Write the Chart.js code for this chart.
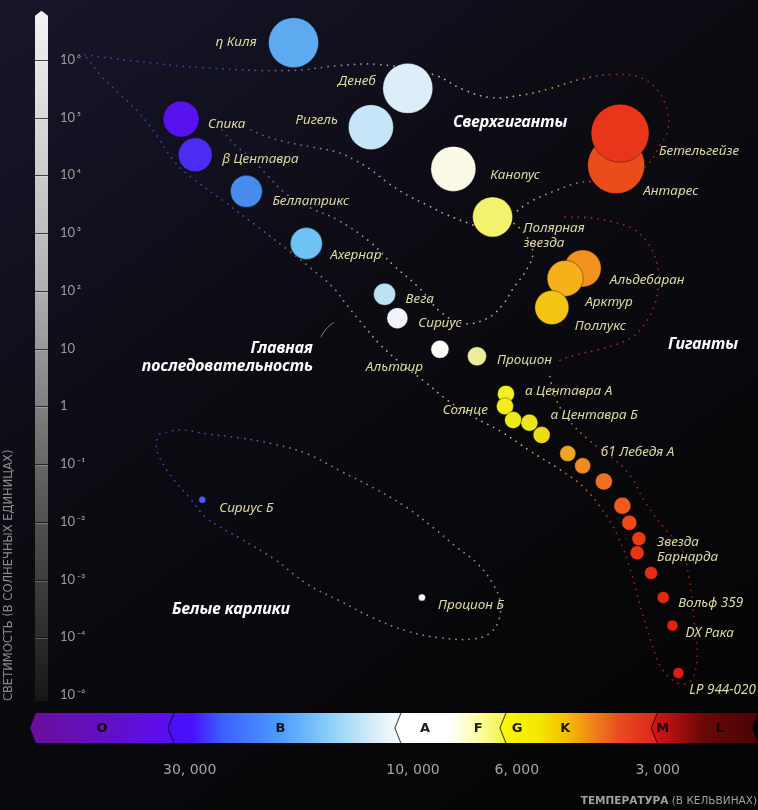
<!DOCTYPE html>
<html>
<head>
<meta charset="utf-8">
<script src="https://cdn.jsdelivr.net/npm/chart.js@4.4.1/dist/chart.umd.min.js"></script>
<style>
  html, body { margin: 0; padding: 0; background: #08080a; overflow: hidden; }
</style>
</head>
<body>
<canvas id="hr" width="758" height="810"></canvas>
<script>
// ---- stars: temperature (K), luminosity (suns), drawn radius, fill ----
const starNames = ['η Киля', 'Денеб', 'Ригель', 'Спика', 'β Центавра', 'Беллатрикс', 'Ахернар', 'Вега', 'Сириус',
  'Альтаир', 'Процион', 'Канопус', 'Полярная\nзвезда', 'Антарес', 'Бетельгейзе', 'Альдебаран', 'Арктур', 'Поллукс',
  'α Центавра А', 'Солнце', '', 'α Центавра Б', '', '61 Лебедя А', '', '', '', '', '', 'Звезда\nБарнарда', '',
  'Вольф 359', 'DX Рака', 'LP 944-020', 'Сириус Б', 'Процион Б'];
const starTemps = [18000, 10260, 12300, 31300, 29200, 22700, 16900, 11500, 10800, 8760, 7300, 8200, 6760, 3680, 3610,
  4340, 4730, 5050, 6330, 6360, 6110, 5640, 5310, 4670, 4340, 3910, 3570, 3450, 3290, 3320, 3100, 2920, 2790, 2710,
  28200, 9570];
const starLums = [1.98e6, 3.2e5, 6.8e4, 9.4e4, 2.26e4, 5270, 660, 87, 33.6, 9.7, 7.35, 1.29e4, 1900, 1.5e4, 5.35e4,
  244, 164, 51.3, 1.64, 1.0, 0.578, 0.52, 0.318, 0.152, 0.093, 0.050, 0.019, 0.0096, 0.0051, 0.0029, 0.0013,
  4.9e-4, 1.6e-4, 2.4e-5, 0.024, 4.9e-4];
const starSizes = [25, 25, 22.5, 18, 17, 16, 16, 11, 10.5, 9, 9.5, 22.5, 20, 28.5, 29, 18.5, 18, 17, 8.5, 8.5, 8.5,
  8.5, 8.5, 8, 8, 8.5, 8.5, 7.5, 7, 7, 6.5, 6, 5.5, 5.5, 3.5, 3.5];
const starColors = ['#5eaaf0', '#ddeefa', '#c6e5f8', '#5812f0', '#4a2cf2', '#4a8cee', '#6ec2f4', '#bde2f6', '#eef4fa',
  '#fdfdfd', '#ecec9a', '#fafae6', '#f2f26c', '#ea4c1c', '#e8361a', '#f2921e', '#f5b01a', '#f4c414', '#f4f020',
  '#f2ee1c', '#eeea18', '#eae61a', '#eedc18', '#f0a422', '#f08c20', '#f07020', '#f05a1c', '#f04a18', '#ec3a16',
  '#ea3416', '#e82c14', '#e82414', '#e42012', '#e01c12', '#4a5aff', '#ffffff'];
// label offset from the star centre: [dx, dy, align]
const starLabelPlace = [[-37, 0, 'right'], [-32, -7, 'right'], [-33, -7, 'right'], [27, 5, 'left'], [27, 4, 'left'],
  [26, 10, 'left'], [24, 12, 'left'], [21, 5, 'left'], [21, 5, 'left'], [-17, 18, 'right'], [20, 4, 'left'],
  [37, 6, 'left'], [31, 11, 'left'], [27, 26, 'left'], [39, 18, 'left'], [27, 12, 'left'], [20, 24, 'left'],
  [23, 19, 'left'], [19, -3, 'left'], [-17, 4, 'right'], null, [21, -8, 'left'], null, [33, -1, 'left'], null, null,
  null, null, null, [20, -11, 'left'], null, [15, 6, 'left'], [13, 8, 'left'], [11, 17, 'left'], [17, 8, 'left'],
  [16, 8, 'left']];

// ---- region captions ----
const regionNames = ['Сверхгиганты', 'Гиганты', 'Главная\nпоследовательность', 'Белые карлики'];
const regionTemps = [6200, 2400, 16370, 24490];
const regionLums = [8.3e4, 11.8, 10.1, 3.06e-4];
const regionAlign = ['center', 'center', 'right', 'center'];

// ---- dotted region outlines, [log10 T, log10 L] ----
const outlineSupergiantTop = [[4.701, 6.090], [4.605, 5.986], [4.455, 5.866], [4.263, 5.814], [4.156, 5.900],
  [4.071, 5.917], [3.957, 5.745], [3.893, 5.486], [3.835, 5.348], [3.771, 5.383], [3.714, 5.486], [3.643, 5.659],
  [3.573, 5.745], [3.515, 5.693], [3.479, 5.486], [3.457, 5.141], [3.455, 4.797], [3.472, 4.521], [3.504, 4.141],
  [3.568, 3.883], [3.637, 3.883], [3.692, 3.745], [3.750, 3.538], [3.788, 3.317]];
const outlineSupergiantBase = [[3.872, 3.141], [3.927, 3.314], [3.970, 3.486], [4.013, 3.659], [4.056, 3.883],
  [4.092, 4.107], [4.128, 4.279], [4.162, 4.400], [4.214, 4.486], [4.269, 4.572], [4.321, 4.693], [4.353, 4.814]];
const outlineMainUpper = [[4.408, 4.779], [4.380, 4.521], [4.348, 4.314], [4.316, 4.041], [4.274, 3.697],
  [4.220, 3.438], [4.162, 3.231], [4.092, 2.848], [4.043, 2.452], [3.985, 2.038], [3.942, 1.641], [3.893, 1.434],
  [3.842, 1.521], [3.808, 1.762], [3.786, 2.038], [3.756, 2.383], [3.744, 2.676], [3.761, 2.986], [3.788, 3.193]];
const outlineMainBand = [[4.697, 6.038], [4.669, 5.745], [4.626, 5.400], [4.583, 5.055], [4.545, 4.659],
  [4.509, 4.228], [4.466, 3.917], [4.402, 3.538], [4.338, 3.145], [4.274, 2.748], [4.220, 2.403], [4.171, 2.059],
  [4.141, 1.748], [4.109, 1.434], [4.071, 1.076], [4.024, 0.731], [3.974, 0.421], [3.927, 0.110], [3.874, -0.169],
  [3.814, -0.428], [3.750, -0.772], [3.686, -1.097], [3.637, -1.390], [3.596, -1.786], [3.562, -2.252],
  [3.536, -2.821], [3.513, -3.497], [3.491, -4.083], [3.466, -4.566], [3.429, -4.807], [3.404, -4.721],
  [3.393, -4.307], [3.400, -3.703], [3.410, -2.979], [3.427, -2.445], [3.464, -2.100], [3.502, -1.686],
  [3.536, -1.203], [3.573, -0.893], [3.622, -0.600], [3.669, -0.221], [3.697, 0.176], [3.709, 0.572]];
const outlineGiants = [[3.675, 3.279], [3.622, 3.262], [3.573, 3.193], [3.530, 3.072], [3.500, 2.848],
  [3.479, 2.490], [3.476, 2.107], [3.483, 1.779], [3.504, 1.434], [3.536, 1.176], [3.600, 0.990], [3.654, 0.886],
  [3.697, 0.766]];
const outlineDwarfs = [[4.541, -0.479], [4.498, -0.410], [4.440, -0.479], [4.370, -0.548], [4.299, -0.652],
  [4.226, -0.824], [4.156, -1.117], [4.085, -1.410], [4.013, -1.755], [3.957, -2.100], [3.906, -2.445],
  [3.863, -2.717], [3.829, -3.079], [3.814, -3.372], [3.816, -3.683], [3.835, -3.924], [3.872, -4.028],
  [3.942, -4.010], [4.013, -3.890], [4.085, -3.666], [4.156, -3.372], [4.226, -3.079], [4.299, -2.631],
  [4.370, -2.286], [4.440, -1.941], [4.476, -1.597], [4.513, -1.252], [4.541, -0.893], [4.549, -0.652],
  [4.541, -0.479]];

// dot colour along temperature
const outlineColorTemps = [50000, 25000, 18000, 12000, 7500, 5600, 4400, 3800, 2500];
const outlineColors = ['#3444c4', '#3a4ab8', '#6a72a8', '#a6a8b4', '#b8b8aa', '#c4b45a', '#c0703a', '#a82822', '#9c1818'];
const giantColorTemps = [5500, 2500];
const giantColors = ['#a83a30', '#a02020'];
const dwarfColorTemps = [35000, 25000, 18000, 9000];
const dwarfColors = ['#3444d0', '#4a5ab0', '#7a8494', '#909a96'];

// ---- axes ----
const lumTickValues = [1e-5, 1e-4, 1e-3, 1e-2, 1e-1, 1, 10, 1e2, 1e3, 1e4, 1e5, 1e6];
const lumTickLabels = ['10\u2009⁻⁶', '10\u2009⁻⁴', '10\u2009⁻³', '10\u2009⁻²', '10\u2009⁻¹', '1', '10',
  '10\u2009²', '10\u2009³', '10\u2009⁴', '10\u2009⁵', '10\u2009⁶'];
const tempTickValues = [3000, 6000, 10000, 30000];
const tempTickLabels = ['3, 000', '6, 000', '10, 000', '30, 000'];
const xTitleBold = 'ТЕМПЕРАТУРА';
const xTitleRest = ' (В КЕЛЬВИНАХ)';
const yTitle = 'СВЕТИМОСТЬ (В СОЛНЕЧНЫХ ЕДИНИЦАХ)';

// ---- spectral classes ----
const classLetters = ['O', 'B', 'A', 'F', 'G', 'K', 'M', 'L'];
const classLetterTemps = [46200, 19200, 9430, 7260, 5995, 4730, 2926, 2208];
const classBounds = [65800, 33400, 10930, 6520, 3097, 1831];
const classBandStops = [
  [[65800, '#6a0e9c'], [45000, '#6210c4'], [33400, '#5a0ef0']],
  [[33400, '#4a0cfa'], [29500, '#4a12fc'], [25600, '#3a60ff'], [19200, '#4c9cff'], [15000, '#8cd0f8'],
    [12500, '#cdeaf8'], [10930, '#f4f8fb']],
  [[10930, '#ffffff'], [8330, '#ffffff'], [7300, '#ffffa8'], [6520, '#f4f458']],
  [[6520, '#f8f810'], [5400, '#f4e800'], [4730, '#f4c000'], [4185, '#f08a18'], [3610, '#e84a20'], [3097, '#e02a1c']],
  [[3097, '#d81a14'], [2800, '#b01010'], [2400, '#6a0808'], [1831, '#4a0404']]
];

function tempGradient(chart, temps, colors) {
  const x = chart.scales.x;
  if (!x || !chart.chartArea) return colors[0];
  const x0 = x.getPixelForValue(temps[0]);
  const x1 = x.getPixelForValue(temps[temps.length - 1]);
  const g = chart.ctx.createLinearGradient(x0, 0, x1, 0);
  temps.forEach((t, i) => g.addColorStop((x.getPixelForValue(t) - x0) / (x1 - x0), colors[i]));
  return g;
}

function outlineDataset(points, temps, colors) {
  return {
    type: 'line',
    data: points.map(p => ({x: Math.pow(10, p[0]), y: Math.pow(10, p[1])})),
    borderColor: c => tempGradient(c.chart, temps, colors),
    borderWidth: 1.7,
    borderDash: [0.1, 6.5],
    borderCapStyle: 'round',
    pointRadius: 0,
    tension: 0.4,
    fill: false,
    clip: false,
    order: 1
  };
}

function drawLumBar(chart) {
  const {ctx, chartArea} = chart;
  const y = chart.scales.y;
  const left = 35, right = 48, mid = 41.5;
  const tip = chartArea.top + 3, top = chartArea.top + 8;
  const bottom = y.getPixelForValue(lumTickValues[0]) + 6;
  ctx.save();
  const g = ctx.createLinearGradient(0, top, 0, bottom);
  g.addColorStop(0, '#f2f2f2');
  g.addColorStop(0.4, '#b0b0b0');
  g.addColorStop(0.7, '#5a5a5a');
  g.addColorStop(1, '#161616');
  ctx.beginPath();
  ctx.moveTo(mid, tip);
  ctx.lineTo(right, top);
  ctx.lineTo(right, bottom);
  ctx.lineTo(left, bottom);
  ctx.lineTo(left, top);
  ctx.closePath();
  ctx.fillStyle = g;
  ctx.fill();
  lumTickValues.slice(1).forEach(v => {
    const py = Math.round(y.getPixelForValue(v)) + 0.5;
    ctx.strokeStyle = 'rgba(15,15,15,0.75)';
    ctx.lineWidth = 1;
    ctx.beginPath(); ctx.moveTo(left, py); ctx.lineTo(right, py); ctx.stroke();
    ctx.strokeStyle = 'rgba(255,255,255,0.22)';
    ctx.beginPath(); ctx.moveTo(left, py + 1); ctx.lineTo(right, py + 1); ctx.stroke();
  });
  ctx.restore();
}

function drawStarLabels(chart) {
  const {ctx} = chart;
  const {x, y} = chart.scales;
  ctx.save();
  ctx.fillStyle = '#ddd8a4';
  ctx.font = 'italic 13.5px "Noto Sans"';
  ctx.textBaseline = 'middle';
  starNames.forEach((name, i) => {
    if (!name) return;
    const [dx, dy, align] = starLabelPlace[i];
    ctx.textAlign = align;
    const px = x.getPixelForValue(starTemps[i]) + dx;
    const py = y.getPixelForValue(starLums[i]) + dy;
    name.split('\n').forEach((line, k) => ctx.fillText(line, px, py + k * 15));
  });
  ctx.restore();
}

function drawRegionLabels(chart) {
  const {ctx} = chart;
  const {x, y} = chart.scales;
  ctx.save();
  ctx.fillStyle = '#ffffff';
  ctx.font = 'italic bold 16px "Noto Sans"';
  ctx.textBaseline = 'middle';
  regionNames.forEach((name, i) => {
    ctx.textAlign = regionAlign[i];
    const px = x.getPixelForValue(regionTemps[i]);
    const py = y.getPixelForValue(regionLums[i]);
    name.split('\n').forEach((line, k) => ctx.fillText(line, px, py + k * 18));
    if (regionAlign[i] === 'right') {
      // little pointer above the main sequence caption
      ctx.strokeStyle = 'rgba(170,170,170,0.7)';
      ctx.lineWidth = 1;
      ctx.beginPath();
      ctx.moveTo(px + 8, py - 11);
      ctx.quadraticCurveTo(px + 12, py - 20, px + 21, py - 26);
      ctx.stroke();
    }
  });
  ctx.restore();
}

function drawClassBar(chart) {
  const {ctx} = chart;
  const x = chart.scales.x;
  const top = x.top + 6.5, bottom = top + 30, mid = (top + bottom) / 2, notch = 6;
  ctx.save();
  for (let i = 0; i < classBounds.length - 1; i++) {
    const xa = x.getPixelForValue(classBounds[i]);
    const xb = x.getPixelForValue(classBounds[i + 1]);
    const last = i === classBounds.length - 2;
    const xe = last ? xb : xb + notch;
    ctx.beginPath();
    ctx.moveTo(xa, mid);
    ctx.lineTo(xa + notch, top);
    if (last) {
      ctx.lineTo(xb, top);
      ctx.lineTo(xb - notch, mid);
      ctx.lineTo(xb, bottom);
    } else {
      ctx.lineTo(xb + notch, top);
      ctx.lineTo(xb, mid);
      ctx.lineTo(xb + notch, bottom);
    }
    ctx.lineTo(xa + notch, bottom);
    ctx.closePath();
    const g = ctx.createLinearGradient(xa, 0, xe, 0);
    classBandStops[i].forEach(([t, c]) => {
      const f = (x.getPixelForValue(t) - xa) / (xe - xa);
      g.addColorStop(Math.min(1, Math.max(0, f)), c);
    });
    ctx.fillStyle = g;
    ctx.fill();
    if (i > 0) {
      ctx.beginPath();
      ctx.moveTo(xa + notch, top);
      ctx.lineTo(xa, mid);
      ctx.lineTo(xa + notch, bottom);
      ctx.strokeStyle = 'rgba(0,0,0,0.6)';
      ctx.lineWidth = 1.2;
      ctx.stroke();
    }
  }
  ctx.fillStyle = 'rgba(12,8,10,0.92)';
  ctx.font = 'bold 13px "DejaVu Sans"';
  ctx.textAlign = 'center';
  ctx.textBaseline = 'middle';
  classLetters.forEach((c, i) => ctx.fillText(c, x.getPixelForValue(classLetterTemps[i]), mid + 1));
  ctx.restore();
}

function drawAxisTitles(chart) {
  const {ctx, width, height} = chart;
  const y = chart.scales.y;
  ctx.save();
  ctx.fillStyle = '#a2a2a2';
  ctx.textBaseline = 'middle';
  ctx.textAlign = 'left';
  ctx.font = '10.5px "DejaVu Sans"';
  const wr = ctx.measureText(xTitleRest).width;
  ctx.font = 'bold 10.5px "DejaVu Sans"';
  const wb = ctx.measureText(xTitleBold).width;
  const xr = width - 1, yt = height - 9;
  ctx.fillText(xTitleBold, xr - wr - wb, yt);
  ctx.font = '10.5px "DejaVu Sans"';
  ctx.fillText(xTitleRest, xr - wr, yt);
  ctx.translate(9, y.getPixelForValue(lumTickValues[0]) + 6);
  ctx.rotate(-Math.PI / 2);
  ctx.fillStyle = '#8c8c8c';
  ctx.font = '11.5px "DejaVu Sans"';
  ctx.fillText(yTitle, 0, 0);
  ctx.restore();
}

const hrDecor = {
  id: 'hrDecor',
  beforeDraw(chart) {
    const {ctx, width, height} = chart;
    ctx.save();
    const bg = ctx.createLinearGradient(0, 0, width * 0.8, height);
    bg.addColorStop(0, '#17152a');
    bg.addColorStop(0.45, '#0c0b12');
    bg.addColorStop(1, '#040404');
    ctx.fillStyle = bg;
    ctx.fillRect(0, 0, width, height);
    ctx.restore();
    drawLumBar(chart);
  },
  afterDatasetsDraw(chart) {
    drawStarLabels(chart);
    drawRegionLabels(chart);
  },
  afterDraw(chart) {
    drawClassBar(chart);
    drawAxisTitles(chart);
  }
};

new Chart(document.getElementById('hr'), {
  type: 'bubble',
  data: {
    datasets: [
      {
        type: 'bubble',
        data: starTemps.map((t, i) => ({x: t, y: starLums[i], r: starSizes[i]})),
        backgroundColor: starColors,
        borderColor: 'rgba(0,0,0,0.35)',
        borderWidth: 1,
        clip: false,
        order: 0
      },
      outlineDataset(outlineSupergiantTop, outlineColorTemps, outlineColors),
      outlineDataset(outlineSupergiantBase, outlineColorTemps, outlineColors),
      outlineDataset(outlineMainUpper, outlineColorTemps, outlineColors),
      outlineDataset(outlineMainBand, outlineColorTemps, outlineColors),
      outlineDataset(outlineGiants, giantColorTemps, giantColors),
      outlineDataset(outlineDwarfs, dwarfColorTemps, dwarfColors)
    ]
  },
  options: {
    responsive: false,
    animation: false,
    events: [],
    layout: {autoPadding: false, padding: {left: 60, top: 5, right: 0, bottom: 0}},
    plugins: {legend: {display: false}, tooltip: {enabled: false}},
    scales: {
      x: {
        type: 'logarithmic',
        reverse: true,
        bounds: 'data',
        min: Math.pow(10, 3.2628),
        max: Math.pow(10, 4.6902),
        afterFit(scale) { scale.height = 103.4; },
        afterBuildTicks(scale) { scale.ticks = tempTickValues.map(v => ({value: v})); },
        grid: {display: false, drawTicks: false},
        border: {display: false},
        ticks: {
          color: '#a6a6a6',
          font: {family: '"DejaVu Sans"', size: 14},
          padding: 55,
          maxRotation: 0,
          autoSkip: false,
          callback: (v, i) => tempTickLabels[i]
        }
      },
      y: {
        type: 'logarithmic',
        bounds: 'data',
        min: Math.pow(10, -5.2),
        max: Math.pow(10, 6.9),
        afterFit(scale) { scale.width = 30; },
        afterBuildTicks(scale) { scale.ticks = lumTickValues.map(v => ({value: v})); },
        grid: {display: false, drawTicks: false},
        border: {display: false},
        ticks: {
          color: '#9c9c9c',
          font: {family: 'Lato, "DejaVu Sans"', size: 13},
          crossAlign: 'far',
          padding: 0,
          autoSkip: false,
          callback: (v, i) => lumTickLabels[i]
        }
      }
    }
  },
  plugins: [hrDecor]
});
</script>
</body>
</html>
